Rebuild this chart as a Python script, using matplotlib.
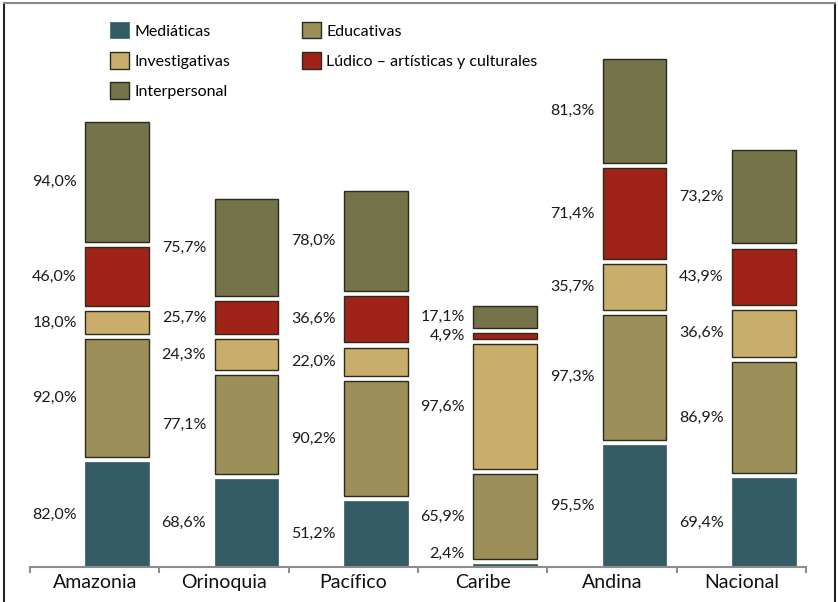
import matplotlib
matplotlib.use("Agg")
import matplotlib.pyplot as plt
from matplotlib.lines import Line2D
import numpy as np

plt.rcParams['font.family'] = ['Lato', 'DejaVu Sans']

regions = ['Amazonia', 'Orinoquia', 'Pacífico', 'Caribe', 'Andina', 'Nacional']
series = ['Mediáticas', 'Educativas', 'Investigativas',
          'Lúdico – artísticas y culturales', 'Interpersonal']
mediaticas = [82.0, 68.6, 51.2, 2.4, 95.5, 69.4]
educativas = [92.0, 77.1, 90.2, 65.9, 97.3, 86.9]
investigativas = [18.0, 24.3, 22.0, 97.6, 35.7, 36.6]
ludico = [46.0, 25.7, 36.6, 4.9, 71.4, 43.9]
interpersonal = [94.0, 75.7, 78.0, 17.1, 81.3, 73.2]
colors = ['#355b64', '#9c8f5a', '#c9ae6b', '#a02318', '#747349']

values = [mediaticas, educativas, investigativas, ludico, interpersonal]

fig = plt.figure(figsize=(8.38, 6.02), dpi=100)
ax = fig.add_axes([30/838, 1 - 567/602, 776/838, 512/602])

x = np.arange(len(regions))
xb = x + 0.174
width = 0.494
gap = 4.0

bottom = np.zeros(len(regions))
handles = []
for i, (name, vals, col) in enumerate(zip(series, values, colors)):
    vals = np.array(vals)
    b = bottom + i * gap
    if i == 0:
        bars = ax.bar(xb, vals, width, bottom=b, color=col, edgecolor=col, lw=0.5)
    else:
        bars = ax.bar(xb, vals, width, bottom=b, color=col, edgecolor='#2b2a1c', lw=1.0)
    handles.append(bars)
    for xi, bi, v in zip(xb, b, vals):
        ly = max(bi + v/2, 10)
        ax.annotate(('%.1f%%' % v).replace('.', ','), (xi - width/2, ly),
                    xytext=(-6, 0), textcoords='offset points',
                    ha='right', va='center', fontsize=11.5, color='#1a1a1a')
    bottom = bottom + vals

ax.set_xlim(-0.5, 5.5)
ax.set_ylim(0, 400)
ax.set_yticks([])
for s in ['left', 'top', 'right']:
    ax.spines[s].set_visible(False)
ax.spines['bottom'].set_color('#8c8c8c')
ax.spines['bottom'].set_linewidth(1.5)
ax.set_xticks(np.arange(-0.5, 6, 1))
ax.set_xticklabels([])
ax.tick_params(axis='x', which='major', length=4, width=1.5, color='#8c8c8c')
ax.set_xticks(x, minor=True)
ax.set_xticklabels(regions, minor=True, fontsize=14, color='#111111')
ax.tick_params(axis='x', which='minor', length=0, pad=5)

order = [0, 2, 4, 1, 3]
leg = fig.legend([handles[k] for k in order], [series[k] for k in order],
                 loc='upper left', bbox_to_anchor=(110/838, 1 - 22/602),
                 ncol=2, frameon=False, fontsize=11.5, borderpad=0,
                 handlelength=1.2, handleheight=1.2, handletextpad=0.35,
                 labelspacing=0.85, columnspacing=4.45, borderaxespad=0)

fig.add_artist(Line2D([4/838, 4/838], [0, 1 - 3/602], color='#222222', lw=1.5))
fig.add_artist(Line2D([835/838, 835/838], [0, 1 - 3/602], color='#222222', lw=1.5))
fig.add_artist(Line2D([4/838, 835/838], [1 - 3/602, 1 - 3/602], color='#888888', lw=1.5))

fig.savefig('out.png', dpi=100)
